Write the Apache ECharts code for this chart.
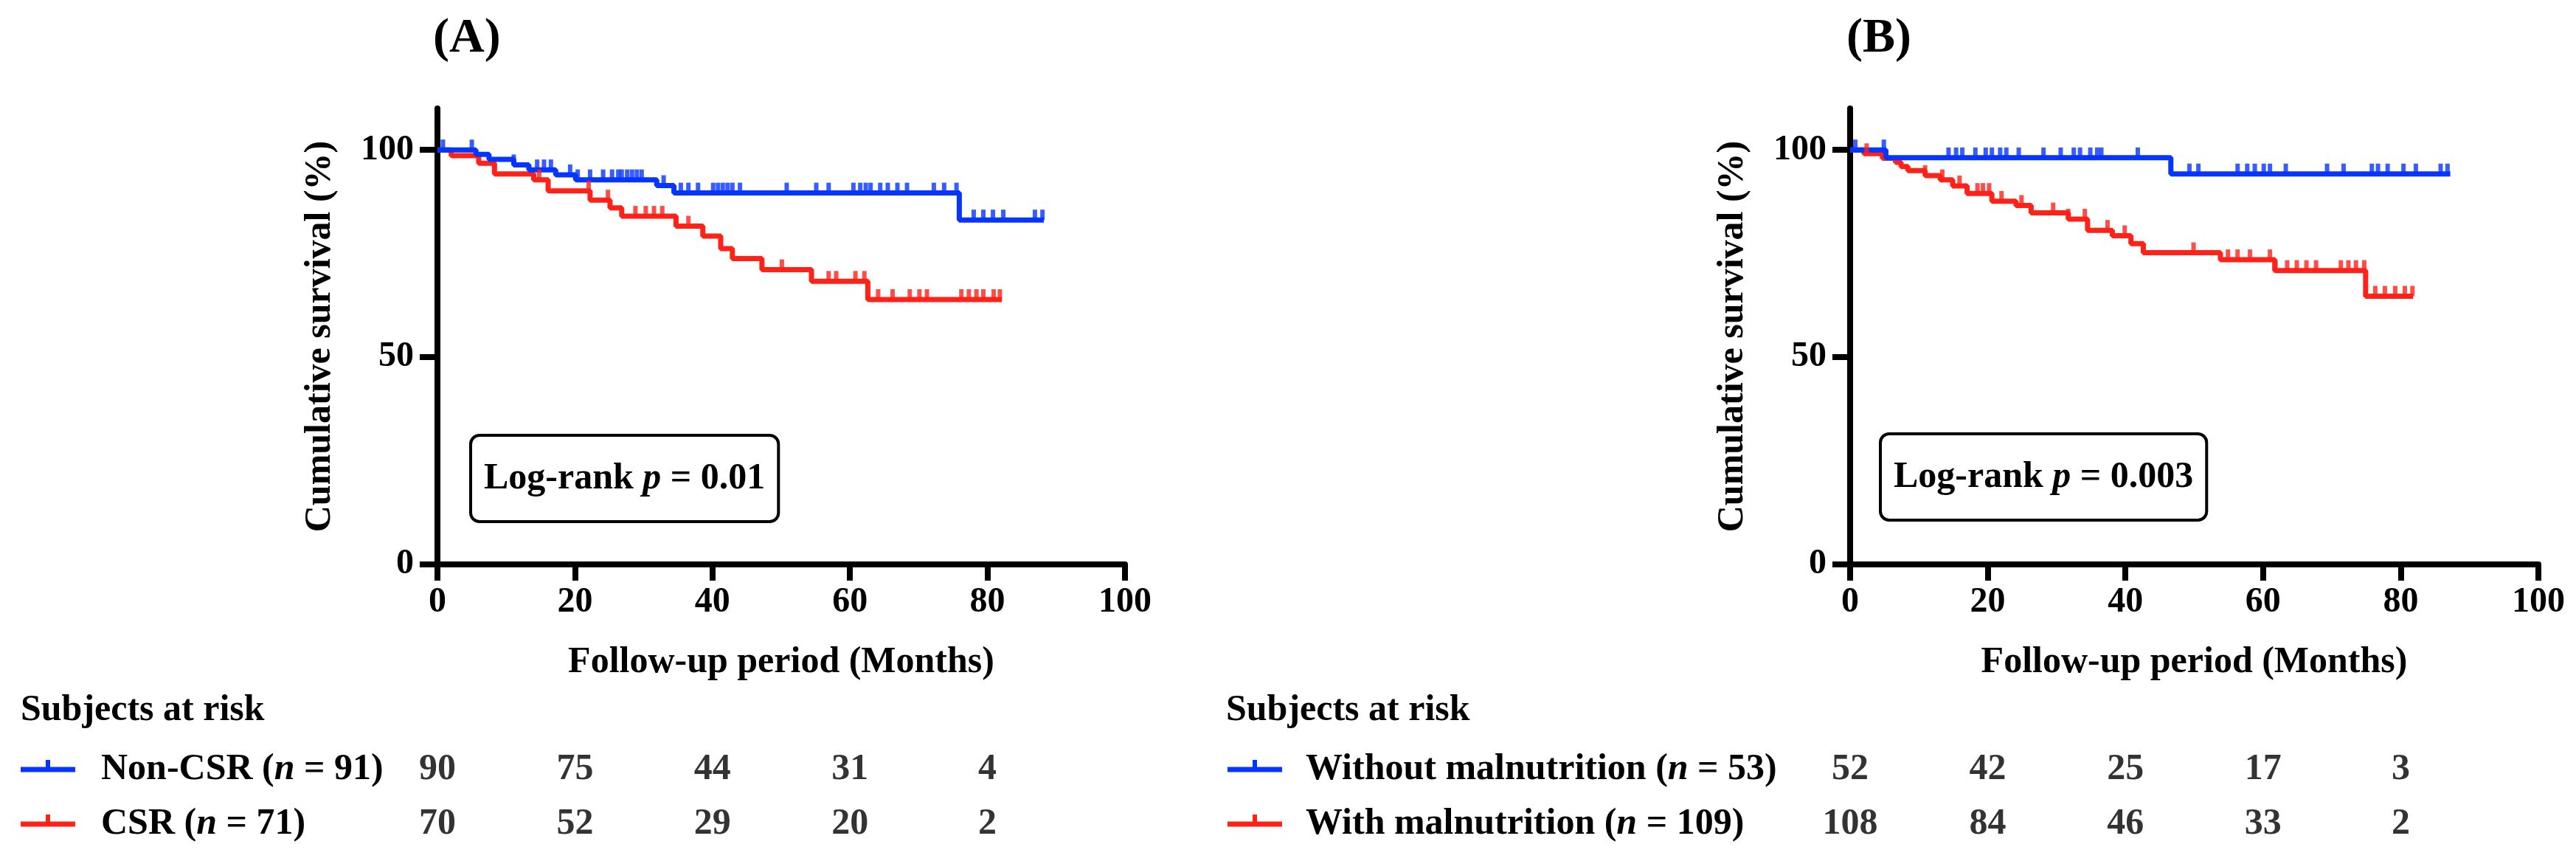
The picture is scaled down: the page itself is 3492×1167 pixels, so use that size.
<!DOCTYPE html>
<html><head><meta charset="utf-8">
<script src="https://cdn.jsdelivr.net/npm/echarts@6/dist/echarts.min.js"></script>
<style>html,body{margin:0;padding:0;background:#fff}#c{width:3492px;height:1167px}</style>
</head><body><div id="c"></div>
<script>
// ---------- Panel A: Non-CSR vs CSR ----------
const nonCsrTimes = [0, 5.6, 7.5, 11.1, 13.3, 17.2, 20.1, 31.9, 34.4, 75.9, 88.2];
const nonCsrSurv  = [100, 98.9, 97.7, 96.4, 95.2, 94.0, 92.8, 91.4, 89.6, 83.1, 83.1];
const nonCsrCensor = [0.8, 5.0, 11.1, 14.5, 15.5, 16.5, 19.3, 20.4, 22.2, 24.1, 25.4, 26.3, 26.8, 27.6, 28.3, 29.0, 29.7, 32.9, 35.4, 36.5, 37.9, 40.1, 40.8, 41.5, 42.2, 42.9, 44.0, 50.8, 55.1, 56.9, 60.5, 61.5, 62.3, 63.0, 64.4, 65.5, 66.9, 68.3, 72.2, 73.7, 75.5, 78.0, 79.4, 80.8, 82.3, 86.9, 88.0];
const csrTimes = [0, 2.0, 6.0, 8.3, 14.0, 16.1, 22.2, 25.1, 26.8, 34.7, 38.6, 41.2, 42.9, 47.2, 54.4, 62.6, 82.1];
const csrSurv  = [100, 98.6, 96.8, 94.2, 92.8, 90.1, 87.9, 86.0, 84.0, 81.6, 79.2, 76.2, 73.8, 71.1, 68.3, 63.9, 63.9];
const csrCensor = [14.8, 22.0, 24.8, 28.8, 30.3, 31.5, 32.7, 34.7, 36.5, 50.1, 56.9, 58.0, 60.8, 62.1, 64.1, 66.2, 68.7, 70.1, 71.2, 76.2, 77.3, 78.4, 79.4, 80.9, 81.8];

// ---------- Panel B: without vs with malnutrition ----------
const withoutTimes = [0, 5.2, 46.6, 87.2];
const withoutSurv  = [100, 98.1, 94.2, 94.2];
const withoutCensor = [0.75, 4.9, 14.3, 15.4, 16.3, 18.2, 19.7, 20.6, 21.8, 22.7, 24.5, 28.1, 30.6, 32.5, 33.4, 34.9, 35.9, 36.5, 41.8, 49.3, 50.6, 56.3, 57.7, 58.8, 60.1, 61.0, 63.3, 69.3, 71.7, 75.8, 76.7, 78.1, 80.4, 82.2, 85.8, 86.8];
const withTimes = [0, 2.0, 4.7, 6.6, 7.4, 8.4, 10.9, 13.1, 14.9, 17.0, 20.6, 24.1, 26.3, 31.7, 34.5, 38.1, 40.8, 42.6, 53.8, 61.7, 74.9, 81.8];
const withSurv  = [100, 99.1, 98.0, 97.0, 96.0, 95.0, 93.8, 92.8, 91.3, 89.5, 87.6, 86.6, 84.8, 83.3, 80.6, 79.3, 77.4, 75.2, 73.5, 70.9, 64.7, 64.7];
const withCensor = [2.4, 10.9, 13.4, 15.9, 18.5, 19.3, 20.2, 22.0, 24.9, 29.5, 31.7, 34.1, 37.4, 39.9, 49.9, 54.9, 56.3, 58.1, 61.0, 61.8, 63.5, 64.9, 66.3, 67.7, 71.3, 72.4, 73.5, 74.7, 76.3, 77.7, 79.2, 80.6, 81.7];

// ---------- Risk table ----------
const riskTimes = [0, 20, 40, 60, 80];
const riskNonCsr = [90, 75, 44, 31, 4];
const riskCsr = [70, 52, 29, 20, 2];
const riskWithout = [52, 42, 25, 17, 3];
const riskWith = [108, 84, 46, 33, 2];

const xTicks = [0, 20, 40, 60, 80, 100];
const yTicks = [0, 50, 100];

const BLUE = '#0535ff', RED = '#ff2219';
const FF = '"Liberation Serif","Times New Roman",serif';
const FS = 50, TICKFS = 48;

function survAt(times, surv, t) {
  let v = surv[0];
  for (let i = 0; i < times.length; i++) if (times[i] <= t) v = surv[i];
  return v;
}
function stepSeries(times, surv, color, gi) {
  return {type: 'line', step: 'end', xAxisIndex: gi, yAxisIndex: gi, showSymbol: false, silent: true,
    data: times.map((t, i) => [t, surv[i]]), lineStyle: {color: color, width: 7}, itemStyle: {color: color}, z: 3};
}
function censorSeries(times, surv, cens, color, gi) {
  return {type: 'scatter', xAxisIndex: gi, yAxisIndex: gi, silent: true, symbol: 'rect',
    symbolSize: [6, 14], symbolOffset: [0, -7], itemStyle: {color: color},
    data: cens.map(t => [t, survAt(times, surv, t)]), z: 3};
}
function riskSeries(vals, row, gi) {
  return {type: 'scatter', xAxisIndex: gi, yAxisIndex: gi, silent: true, symbolSize: 1,
    itemStyle: {color: 'rgba(0,0,0,0)'},
    label: {show: true, position: 'inside', formatter: p => String(p.value[2]),
      fontFamily: FF, fontSize: FS, fontWeight: 'bold', color: '#000'},
    data: riskTimes.map((t, i) => [t, row, vals[i]])};
}
function xAx(gi) {
  return {type: 'value', gridIndex: gi, min: 0, max: 100, interval: 20,
    name: 'Follow-up period (Months)', nameLocation: 'middle', nameGap: 108,
    nameTextStyle: {fontFamily: FF, fontSize: FS, fontWeight: 'bold', color: '#000'},
    axisLine: {show: true, lineStyle: {color: '#000', width: 8}},
    axisTick: {show: true, length: 22, lineStyle: {color: '#000', width: 8}, customValues: xTicks},
    axisLabel: {margin: 28, fontFamily: FF, fontSize: TICKFS, fontWeight: 'bold', color: '#000', customValues: xTicks},
    splitLine: {show: false}};
}
function yAx(gi) {
  return {type: 'value', gridIndex: gi, min: 0, max: 110, interval: 50,
    name: 'Cumulative survival (%)', nameLocation: 'middle', nameGap: 134, nameRotate: 90,
    nameTextStyle: {fontFamily: FF, fontSize: FS, fontWeight: 'bold', color: '#000'},
    axisLine: {show: true, lineStyle: {color: '#000', width: 8}},
    axisTick: {show: true, length: 24, lineStyle: {color: '#000', width: 8}, customValues: yTicks},
    axisLabel: {margin: 32, fontFamily: FF, fontSize: TICKFS, fontWeight: 'bold', color: '#000', customValues: yTicks},
    splitLine: {show: false}};
}
function hiddenX(gi) { return {type: 'value', gridIndex: gi, min: 0, max: 100, show: false}; }
function hiddenY(gi) { return {type: 'category', gridIndex: gi, data: ['r1', 'r2'], inverse: true, show: false}; }

const txt = (x, y, text, size, extra) => ({type: 'text', silent: true, style: Object.assign({
  x: x, y: y, text: text, fill: '#000', fontFamily: FF, fontSize: size, fontWeight: 'bold',
  align: 'left', verticalAlign: 'middle',
  rich: {i: {fontStyle: 'italic', fontWeight: 'bold', fontFamily: FF, fontSize: size, fill: '#000'}}
}, extra || {})});
const legendSym = (x, y, color) => [
  {type: 'rect', silent: true, shape: {x: x, y: y - 3.5, width: 74, height: 7}, style: {fill: color}},
  {type: 'rect', silent: true, shape: {x: x + 34, y: y - 13, width: 6, height: 12}, style: {fill: color}}
];
const box = (x, y, text) => ({type: 'text', silent: true, style: {
  x: x, y: y, text: text, fill: '#000', fontFamily: FF, fontSize: FS, fontWeight: 'bold',
  align: 'left', verticalAlign: 'top', lineHeight: 56,
  borderColor: '#000', borderWidth: 4, borderRadius: 10, padding: [29, 16, 28, 16], backgroundColor: '#fff',
  rich: {i: {fontStyle: 'italic', fontWeight: 'bold', fontFamily: FF, fontSize: FS, lineHeight: 56, fill: '#000'}}
}});

const chart = echarts.init(document.getElementById('c'), null, {renderer: 'canvas'});
chart.setOption({
  animation: false,
  backgroundColor: '#fff',
  grid: [
    {left: 593, top: 147, width: 932, height: 618},
    {left: 2508, top: 147, width: 933, height: 618},
    {left: 593, top: 1006, width: 932, height: 148},
    {left: 2508, top: 1006, width: 933, height: 148}
  ],
  xAxis: [xAx(0), xAx(1), hiddenX(2), hiddenX(3)],
  yAxis: [yAx(0), yAx(1), hiddenY(2), hiddenY(3)],
  series: [
    stepSeries(csrTimes, csrSurv, RED, 0),
    censorSeries(csrTimes, csrSurv, csrCensor, RED, 0),
    stepSeries(nonCsrTimes, nonCsrSurv, BLUE, 0),
    censorSeries(nonCsrTimes, nonCsrSurv, nonCsrCensor, BLUE, 0),
    stepSeries(withTimes, withSurv, RED, 1),
    censorSeries(withTimes, withSurv, withCensor, RED, 1),
    stepSeries(withoutTimes, withoutSurv, BLUE, 1),
    censorSeries(withoutTimes, withoutSurv, withoutCensor, BLUE, 1),
    riskSeries(riskNonCsr, 0, 2),
    riskSeries(riskCsr, 1, 2),
    riskSeries(riskWithout, 0, 3),
    riskSeries(riskWith, 1, 3)
  ],
  graphic: [
    txt(587, 53, '(A)', 66),
    txt(2503, 53, '(B)', 66),
    box(640, 592, 'Log-rank {i|p} = 0.01'),
    box(2551, 590, 'Log-rank {i|p} = 0.003'),
    txt(28, 963, 'Subjects at risk', FS),
    txt(137, 1043, 'Non-CSR ({i|n} = 91)', FS),
    txt(137, 1117, 'CSR ({i|n} = 71)', FS),
    txt(1662, 963, 'Subjects at risk', FS),
    txt(1770, 1043, 'Without malnutrition ({i|n} = 53)', FS),
    txt(1770, 1117, 'With malnutrition ({i|n} = 109)', FS)
  ].concat(legendSym(28, 1043, BLUE), legendSym(28, 1117, RED), legendSym(1664, 1043, BLUE), legendSym(1664, 1117, RED))
});
</script></body></html>
